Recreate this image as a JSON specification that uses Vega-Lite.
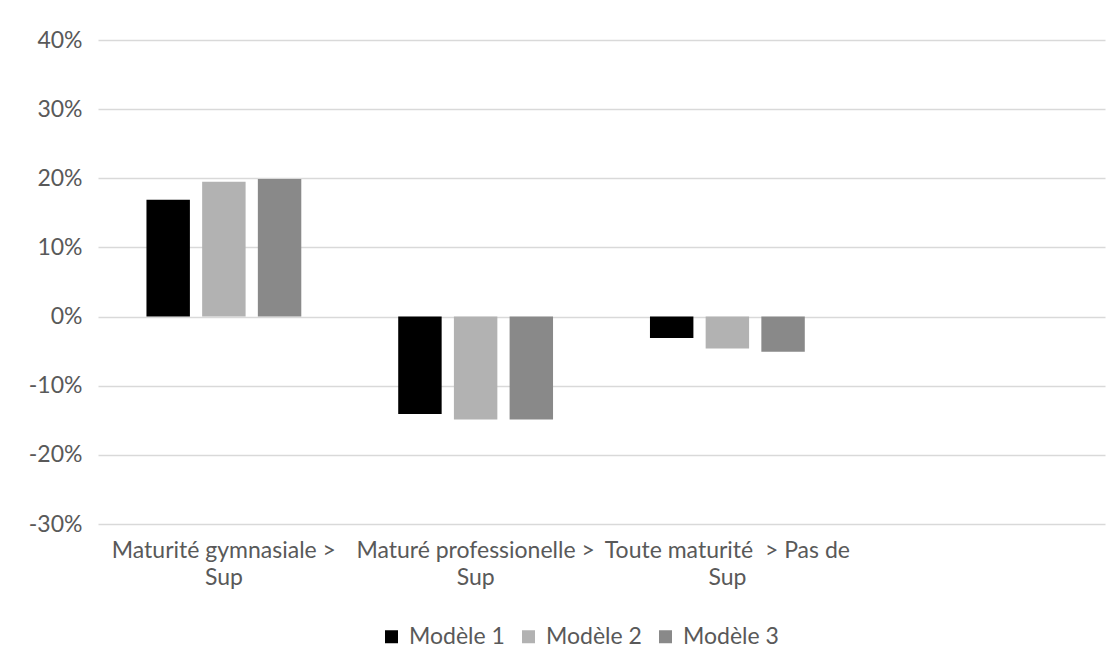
{
  "$schema": "https://vega.github.io/schema/vega-lite/v6.json",
  "width": 1007,
  "height": 484,
  "autosize": {"type": "none"},
  "padding": {"left": 98, "top": 40, "right": 15, "bottom": 143},
  "background": "white",
  "config": {"view": {"stroke": null}, "font": "Lato"},
  "data": {
    "values": [
      {"categorie": "Maturité gymnasiale >|Sup", "modele": "Modèle 1", "valeur": 16.9},
      {"categorie": "Maturité gymnasiale >|Sup", "modele": "Modèle 2", "valeur": 19.5},
      {"categorie": "Maturité gymnasiale >|Sup", "modele": "Modèle 3", "valeur": 19.9},
      {"categorie": "Maturé professionelle >|Sup", "modele": "Modèle 1", "valeur": -14.1},
      {"categorie": "Maturé professionelle >|Sup", "modele": "Modèle 2", "valeur": -14.9},
      {"categorie": "Maturé professionelle >|Sup", "modele": "Modèle 3", "valeur": -14.9},
      {"categorie": "Toute maturité\u00a0 > Pas de|Sup", "modele": "Modèle 1", "valeur": -3.1},
      {"categorie": "Toute maturité\u00a0 > Pas de|Sup", "modele": "Modèle 2", "valeur": -4.6},
      {"categorie": "Toute maturité\u00a0 > Pas de|Sup", "modele": "Modèle 3", "valeur": -5.1}
    ]
  },
  "mark": {"type": "bar"},
  "encoding": {
    "x": {
      "field": "categorie",
      "type": "nominal",
      "sort": null,
      "scale": {
        "domain": ["Maturité gymnasiale >|Sup", "Maturé professionelle >|Sup", "Toute maturité\u00a0 > Pas de|Sup", " "],
        "paddingInner": 0.385,
        "paddingOuter": 0.1925
      },
      "axis": {
        "title": null,
        "labelExpr": "split(datum.label, '|')",
        "labelAngle": 0,
        "labelFontSize": 23,
        "labelColor": "#595959",
        "labelPadding": 15,
        "labelLineHeight": 27,
        "labelLimit": 0,
        "domain": false,
        "ticks": false,
        "tickSize": 0,
        "grid": false
      }
    },
    "xOffset": {
      "field": "modele",
      "type": "nominal",
      "scale": {"paddingInner": 0.22, "paddingOuter": 0}
    },
    "y": {
      "field": "valeur",
      "type": "quantitative",
      "scale": {"domain": [-30, 40], "nice": false, "zero": true},
      "axis": {
        "title": null,
        "values": [-30, -20, -10, 0, 10, 20, 30, 40],
        "labelExpr": "datum.value + '%'",
        "labelFontSize": 23,
        "labelColor": "#595959",
        "labelPadding": 16,
        "domain": false,
        "ticks": false,
        "tickSize": 0,
        "grid": true,
        "gridColor": "#d9d9d9",
        "gridWidth": 1.3
      }
    },
    "color": {
      "field": "modele",
      "type": "nominal",
      "scale": {"domain": ["Modèle 1", "Modèle 2", "Modèle 3"], "range": ["#000000", "#b2b2b2", "#898989"]},
      "legend": {
        "title": null,
        "orient": "none",
        "direction": "horizontal",
        "legendX": 282,
        "legendY": 585,
        "symbolType": "square",
        "symbolSize": 169,
        "symbolStrokeWidth": 0,
        "labelFontSize": 23,
        "labelColor": "#595959",
        "labelOffset": 6,
        "columnPadding": 12,
        "padding": 0
      }
    }
  }
}
